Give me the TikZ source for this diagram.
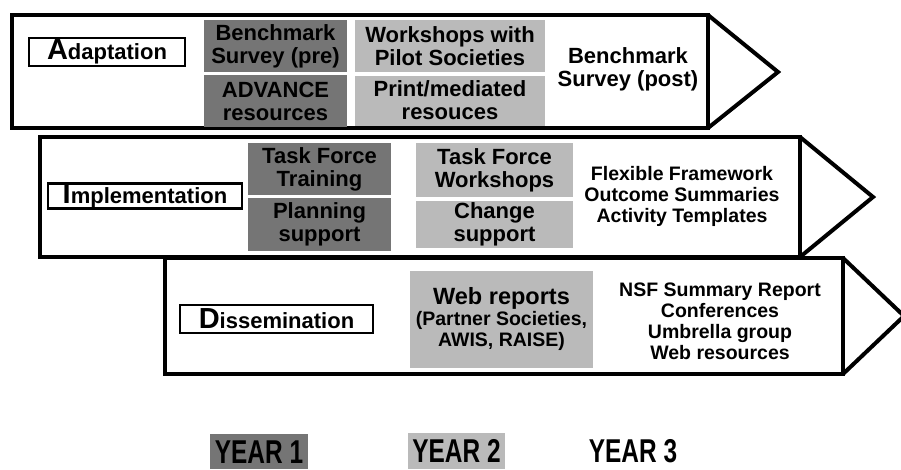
\documentclass[tikz,border=0pt]{standalone}
\usepackage{fontspec}
\setmainfont{Liberation Sans}
\usepackage{tikz}

\definecolor{fosc}{gray}{0.46}
\definecolor{clar}{gray}{0.73}
% primera lletra mes gran a les etiquetes de fase
\newcommand{\fase}[2]{{\fontsize{29}{29}\selectfont #1}#2}
% text dels anys, estret
\newcommand{\estret}[1]{\scalebox{0.74}[1]{#1}}

\begin{document}
\begin{tikzpicture}[x=1pt, y=-1pt,
    every node/.style={anchor=center, align=center, inner sep=0pt,
        font=\bfseries\fontsize{22}{23}\selectfont},
    fletxa/.style={line width=4.5pt},
    punta/.style={line width=4pt},
    etiqueta/.style={draw, line width=2.5pt},
    fosca/.style={fill=fosc, minimum width=143, minimum height=52},
    clara/.style={fill=clar, minimum height=52},
    llista/.style={font=\bfseries\fontsize{19.5}{21}\selectfont},
    any/.style={font=\bfseries\fontsize{33}{33}\selectfont}]
    \useasboundingbox (0,0) rectangle (901,469);
    \clip (0,0) rectangle (901,469);
    % Fletxes de les tres fases
    \draw[fletxa] (12,15) rectangle (708,128);
    \draw[punta] (708,15) -- (778,72) -- (708,128);
    \draw[fletxa] (40,137) rectangle (800,257);
    \draw[punta] (800,137) -- (873,197) -- (800,257);
    \draw[fletxa] (165,258) rectangle (843,374);
    \draw[punta] (843,258) -- (904,316) -- (843,374);
    % Adaptacio
    \node[etiqueta, minimum width=156, minimum height=28] (adapt) at (107,52) {\fase{A}{daptation}};
    \node[fosca] (bpre) at (275.5,46) {Benchmark\\Survey (pre)};
    \node[fosca] (adv) at (275.5,101) {ADVANCE\\resources};
    \node[clara, minimum width=190] (tallers) at (450,46) {Workshops with\\Pilot Societies};
    \node[clara, minimum width=190, minimum height=50] (print) at (450,100.5) {Print/mediated\\resouces};
    \node (bpost) at (628,69) {Benchmark\\Survey (post)};
    % Implementacio
    \node[etiqueta, minimum width=194, minimum height=24] (impl) at (145,196) {\fase{I}{mplementation}};
    \node[fosca] (tft) at (319.5,169) {Task Force\\Training};
    \node[fosca, minimum height=53] (plan) at (319.5,224.5) {Planning\\support};
    \node[clara, minimum width=157, minimum height=54] (tfw) at (494.5,170) {Task Force\\Workshops};
    \node[clara, minimum width=157, minimum height=47] (canvi) at (494.5,224.5) {Change\\support};
    \node[llista] (marc) at (682,196) {Flexible Framework\\Outcome Summaries\\Activity Templates};
    % Difusio
    \node[etiqueta, minimum width=193, minimum height=28] (difu) at (276.5,319) {\fase{D}{issemination}};
    \node[clara, llista, minimum width=183, minimum height=97] (web) at (501.5,319.5)
        {{\fontsize{23.5}{24}\selectfont Web reports}\\(Partner Societies,\\AWIS, RAISE)};
    \node[llista] (nsf) at (720,321) {NSF Summary Report\\Conferences\\Umbrella group\\Web resources};
    % Anys
    \node[any, fill=fosc, minimum width=98, minimum height=35, anchor=north] (any1) at (259,434) {\estret{YEAR 1}};
    \node[any, fill=clar, minimum width=97, minimum height=36, anchor=north] (any2) at (456.5,433) {\estret{YEAR 2}};
    \node[any] (any3) at (633,451.5) {\estret{YEAR 3}};
\end{tikzpicture}
\end{document}
